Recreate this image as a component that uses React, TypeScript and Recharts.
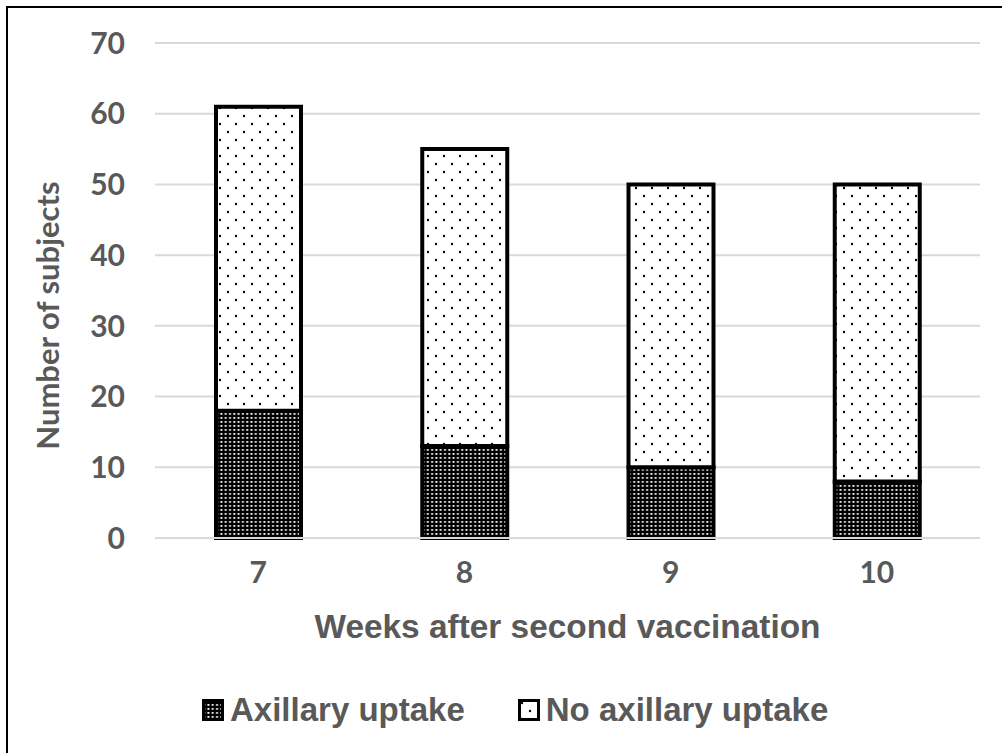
import React from 'react';
import { BarChart, Bar, XAxis, YAxis, CartesianGrid, Label } from 'recharts';

const weeks = ['7', '8', '9', '10'];
const axillaryUptake = [18, 13, 10, 8];
const noAxillaryUptake = [43, 42, 40, 42];
const yTicks = [0, 10, 20, 30, 40, 50, 60, 70];
const seriesNames = ['Axillary uptake', 'No axillary uptake'];
const patternIds = ['densePat', 'dotPat'];

const data = weeks.map((w, i) => ({ week: w, axillary: axillaryUptake[i], none: noAxillaryUptake[i] }));

const GREY = '#595959';
const TICK_FONT = 'Lato, "Open Sans", sans-serif';
const TITLE_FONT = '"Liberation Sans", Arial, sans-serif';

function Patterns() {
  return (
    <svg width={0} height={0} style={{ position: 'absolute' }}>
      <defs>
        <pattern id="dotPat" patternUnits="userSpaceOnUse" width={16} height={16}>
          <rect width={16} height={16} fill="#fff" />
          <circle cx={4} cy={4} r={1.2} fill="#000" />
          <circle cx={12} cy={12} r={1.2} fill="#000" />
        </pattern>
        <pattern id="densePat" patternUnits="userSpaceOnUse" width={4.3} height={4}>
          <rect width={4.3} height={4} fill="#000" />
          <rect x={1.2} y={1} width={1.8} height={1.8} fill="#fff" />
        </pattern>
      </defs>
    </svg>
  );
}

export default function App() {
  return (
    <div style={{ position: 'absolute', left: 0, top: 0, width: 1002, height: 753, overflow: 'hidden', background: '#fff' }}>
      <Patterns />
      <div style={{ position: 'absolute', left: 6, top: 6, width: 1100, height: 900, border: '2px solid #000', boxSizing: 'border-box' }} />
      <div style={{ position: 'absolute', left: 0, top: 0 }}>
        <BarChart width={1002} height={753} data={data} margin={{ top: 43, right: 22, left: 30, bottom: 155 }}>
          <CartesianGrid vertical={false} stroke="#d9d9d9" strokeWidth={2} />
          <XAxis
            dataKey="week"
            height={60}
            axisLine={{ stroke: '#d9d9d9', strokeWidth: 2 }}
            tickLine={false}
            tickSize={0}
            tickMargin={24}
            tick={{ fill: GREY, fontSize: 30, fontWeight: 700, fontFamily: TICK_FONT }}
          >
            <Label
              content={(props: any) => {
                const vb = props.viewBox;
                return (
                  <text x={vb.x + vb.width / 2} y={vb.y + 100} textAnchor="middle" fill={GREY} fontSize={33.4} fontWeight={700} fontFamily={TITLE_FONT}>
                    Weeks after second vaccination
                  </text>
                );
              }}
            />
          </XAxis>
          <YAxis
            width={125}
            domain={[0, 70]}
            ticks={yTicks}
            interval={0}
            axisLine={false}
            tickLine={false}
            tickSize={0}
            tickMargin={30}
            tick={{ fill: GREY, fontSize: 30, fontWeight: 700, fontFamily: TICK_FONT }}
          >
            <Label
              content={(props: any) => {
                const vb = props.viewBox;
                const cx = 47;
                const cy = vb.y + vb.height / 2 + 25;
                return (
                  <text x={cx} y={cy} transform={`rotate(-90 ${cx} ${cy})`} textAnchor="middle" dominantBaseline="central" fill={GREY} fontSize={31} fontWeight={700} fontFamily={TICK_FONT}>
                    Number of subjects
                  </text>
                );
              }}
            />
          </YAxis>
          <Bar dataKey="axillary" name={seriesNames[0]} stackId="a" barSize={85} fill={`url(#${patternIds[0]})`} stroke="#000" strokeWidth={4} isAnimationActive={false} />
          <Bar dataKey="none" name={seriesNames[1]} stackId="a" barSize={85} fill={`url(#${patternIds[1]})`} stroke="#000" strokeWidth={4} isAnimationActive={false} />
        </BarChart>
      </div>
      <div style={{ position: 'absolute', left: 202, top: 688, display: 'flex', gap: 53, fontFamily: TITLE_FONT, fontWeight: 700, fontSize: 33, color: GREY, lineHeight: '44px' }}>
        {seriesNames.map((n, i) => (
          <div key={n} style={{ display: 'flex', alignItems: 'center' }}>
            <svg width={22} height={22} style={{ marginRight: 6 }}>
              <rect x={1.5} y={1.5} width={19} height={19} fill={`url(#${patternIds[i]})`} stroke="#000" strokeWidth={3} />
            </svg>
            <span>{n}</span>
          </div>
        ))}
      </div>
    </div>
  );
}
